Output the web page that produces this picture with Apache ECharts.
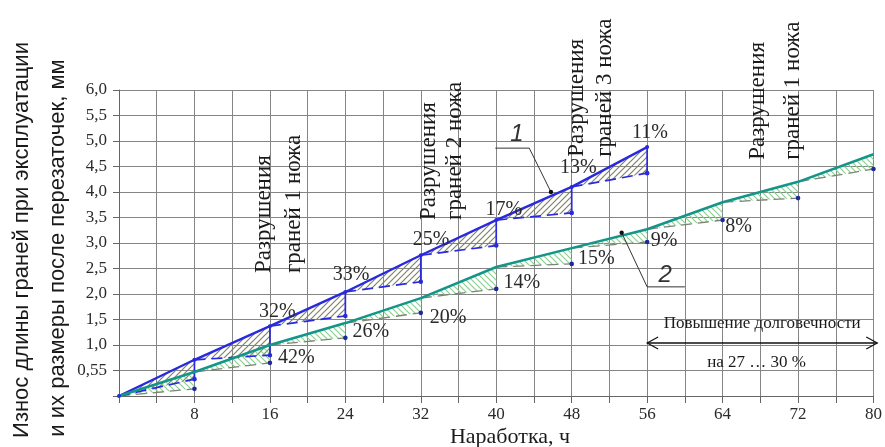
<!DOCTYPE html>
<html><head><meta charset="utf-8">
<script src="https://cdn.jsdelivr.net/npm/echarts@6/dist/echarts.min.js"></script>
<style>html,body{margin:0;padding:0;background:#fff}#c{width:885px;height:447px}</style>
</head><body><div id="c"></div>
<script>
// ---- data ----
const hours = [0, 8, 16, 24, 32, 40, 48, 56, 64, 72, 80];
const blueTop = [0, 0.71, 1.37, 2.04, 2.76, 3.45, 4.10, 4.88];          // curve 1 at 0..56 h
const blueBottom = [null, 0.33, 0.80, 1.57, 2.24, 2.95, 3.59, 4.37];     // after regrinding
const greenTop = [0, 0.47, 1.00, 1.43, 1.92, 2.53, 2.90, 3.27, 3.80, 4.20, 4.74]; // curve 2
const greenBottom = [null, 0.14, 0.65, 1.14, 1.63, 2.10, 2.59, 3.02, 3.45, 3.88, 4.45];
const xTickLabels = [8, 16, 24, 32, 40, 48, 56, 64, 72, 80];
const yTickLabels = ['', '0,55', '1,0', '1,5', '2,0', '2,5', '3,0', '3,5', '4,0', '4,5', '5,0', '5,5', '6,0'];
const pctTexts = ['32%', '42%', '33%', '26%', '20%', '25%', '14%', '17%', '15%', '13%', '11%', '9%', '8%'];
const pctPos = [[16.8,1.65],[18.8,0.75],[24.6,2.37],[26.7,1.26],[34.9,1.53],[33.1,3.06],[42.7,2.22],[40.8,3.65],[50.6,2.70],[48.7,4.47],[56.3,5.16],[57.8,3.04],[65.7,3.31]];
const noteTexts = [['Разрушения','граней 1 ножа'],['Разрушения','граней 2 ножа'],['Разрушения','граней 3 ножа'],['Разрушения','граней 1 ножа']];
const notePos = [[15.4,18.55,2.41],[32.9,35.6,3.45],[48.6,51.55,4.69],[67.8,71.5,4.63]];
const leader1 = [[45.8,4.0],[43.5,4.86],[39.9,4.86]];
const leader2 = [[53.3,3.2],[56.0,2.14],[60.0,2.14]];
const leaderLabels = [['1',42.2,5.14],['2',57.9,2.37]];
const arrowRange = [56.0, 80.4, 1.04];
const gainTexts = [['Повышение долговечности',68.2,1.43],['на 27 … 30 %',67.6,0.65]];

// ---- derived ----
const blueSeg = [], greenSeg = [];
for (let i = 1; i < blueTop.length; i++) blueSeg.push([hours[i-1], blueTop[i-1], hours[i], blueTop[i], blueBottom[i]]);
for (let i = 1; i < greenTop.length; i++) greenSeg.push([hours[i-1], greenTop[i-1], hours[i], greenTop[i], greenBottom[i]]);

function makePattern(color, dir) {
  const s = 6, c = document.createElement('canvas'); c.width = s; c.height = s;
  const g = c.getContext('2d'); g.strokeStyle = color; g.lineWidth = 1.2;
  g.beginPath();
  if (dir > 0) { g.moveTo(0,s); g.lineTo(s,0); g.moveTo(-1,1); g.lineTo(1,-1); g.moveTo(s-1,s+1); g.lineTo(s+1,s-1); }
  else { g.moveTo(0,0); g.lineTo(s,s); g.moveTo(s-1,-1); g.lineTo(s+1,1); g.moveTo(-1,s-1); g.lineTo(1,s+1); }
  g.stroke(); return c;
}
const bluePat = makePattern('#7f8466', 1);
const greenPat = makePattern('#8ccf92', -1);

const BLUE = '#2929de', GREEN = '#13958a';
const SERIF = 'Liberation Serif';

function hatchSeries(data, pat) {
  return { type: 'custom', data, clip: false, z: 1, silent: true,
    renderItem: (p, api) => {
      const a = api.coord([api.value(0), api.value(1)]);
      const b = api.coord([api.value(2), api.value(3)]);
      const c = api.coord([api.value(2), api.value(4)]);
      return { type: 'polygon', shape: { points: [a, b, c] }, style: { fill: { type: 'pattern', image: pat, repeat: 'repeat' }, stroke: null } };
    } };
}
function dashSeries(data, color, w, vertical, dotColor) {
  return { type: 'custom', data, clip: false, z: 3, silent: true,
    renderItem: (p, api) => {
      const a = api.coord([api.value(0), api.value(1)]);
      const b = api.coord([api.value(2), api.value(3)]);
      const c = api.coord([api.value(2), api.value(4)]);
      const ch = [{ type: 'line', shape: { x1: a[0], y1: a[1], x2: c[0], y2: c[1] }, style: { stroke: color, lineWidth: w, lineDash: [11, 6] } }];
      if (vertical) ch.push({ type: 'line', shape: { x1: b[0], y1: b[1], x2: c[0], y2: c[1] }, style: { stroke: BLUE, lineWidth: 1.7 } });
      ch.push({ type: 'circle', shape: { cx: c[0], cy: c[1], r: 2.3 }, style: { fill: dotColor } });
      return { type: 'group', children: ch };
    } };
}

const option = {
  animation: false,
  backgroundColor: '#fff',
  grid: { left: 119, right: 7, top: 90, bottom: 51 },
  xAxis: { type: 'value', min: 0, max: 80, interval: 4,
    axisLine: { lineStyle: { color: '#666', width: 1 } },
    axisTick: { show: true, length: 7, lineStyle: { color: '#666' } },
    axisLabel: { color: '#2a2a2a', fontFamily: SERIF, fontSize: 17, margin: 10,
      formatter: v => xTickLabels.includes(v) ? String(v) : '' },
    splitLine: { show: true, lineStyle: { color: '#858585', width: 1 } } },
  yAxis: { type: 'value', min: 0, max: 6, interval: 0.5,
    axisLine: { show: true, lineStyle: { color: '#666', width: 1 } },
    axisTick: { show: true, length: 6, lineStyle: { color: '#666' } },
    axisLabel: { color: '#2a2a2a', fontFamily: SERIF, fontSize: 17, margin: 12,
      formatter: v => yTickLabels[Math.round(v / 0.5)] },
    splitLine: { show: true, lineStyle: { color: '#858585', width: 1 } } },
  graphic: [
    { type: 'text', x: 22, y: 240, rotation: Math.PI / 2, style: { text: 'Износ длины граней при эксплуатации', font: '22px Liberation Sans', fill: '#1a1a1a', align: 'center', verticalAlign: 'middle' } },
    { type: 'text', x: 58, y: 248, rotation: Math.PI / 2, style: { text: 'и их размеры после перезаточек, мм', font: '22px Liberation Sans', fill: '#1a1a1a', align: 'center', verticalAlign: 'middle' } },
    { type: 'text', x: 510, y: 437, style: { text: 'Наработка, ч', font: '22px ' + SERIF, fill: '#1a1a1a', align: 'center', verticalAlign: 'middle' } }
  ],
  series: [
    hatchSeries(blueSeg, bluePat),
    hatchSeries(greenSeg, greenPat),
    dashSeries(greenSeg, '#7e8276', 1.3, false, '#1c2a9a'),
    dashSeries(blueSeg, BLUE, 1.7, true, BLUE),
    { type: 'line', data: blueTop.map((v, i) => [hours[i], v]), z: 4, lineStyle: { color: BLUE, width: 2.4 },
      itemStyle: { color: BLUE }, symbol: 'circle', symbolSize: 4, showSymbol: true },
    { type: 'line', data: greenTop.map((v, i) => [hours[i], v]), z: 4, lineStyle: { color: GREEN, width: 2.5 },
      itemStyle: { color: GREEN }, symbol: 'none' },
    // percentage labels
    { type: 'custom', data: pctPos.map((p, i) => [p[0], p[1], i]), clip: false, z: 6, silent: true,
      renderItem: (p, api) => { const c = api.coord([api.value(0), api.value(1)]);
        return { type: 'text', x: c[0], y: c[1], style: { text: pctTexts[api.value(2)], font: '20px ' + SERIF, fill: '#2a2a2a', align: 'center', verticalAlign: 'middle' } }; } },
    // rotated notes
    { type: 'custom', data: notePos.map((p, i) => [p[0], p[2], p[1], i]), clip: false, z: 6, silent: true,
      renderItem: (p, api) => { const a = api.coord([api.value(0), api.value(1)]); const b = api.coord([api.value(2), api.value(1)]);
        const t = noteTexts[api.value(3)];
        return { type: 'group', children: [
          { type: 'text', x: a[0], y: a[1], rotation: Math.PI / 2, style: { text: t[0], font: '23px ' + SERIF, fill: '#1a1a1a', align: 'left', verticalAlign: 'middle' } },
          { type: 'text', x: b[0], y: b[1], rotation: Math.PI / 2, style: { text: t[1], font: '23px ' + SERIF, fill: '#1a1a1a', align: 'left', verticalAlign: 'middle' } } ] }; } },
    // leaders
    { type: 'custom', data: [0, 1].map(i => [i === 0 ? leader1[0][0] : leader2[0][0], i === 0 ? leader1[0][1] : leader2[0][1], i]), clip: false, z: 6, silent: true,
      renderItem: (p, api) => { const L = api.value(2) === 0 ? leader1 : leader2; const lab = leaderLabels[api.value(2)];
        const pts = L.map(q => api.coord(q)); const lp = api.coord([lab[1], lab[2]]);
        return { type: 'group', children: [
          { type: 'polyline', shape: { points: pts }, style: { stroke: '#333', lineWidth: 1, fill: null } },
          { type: 'circle', shape: { cx: pts[0][0], cy: pts[0][1], r: 2.2 }, style: { fill: '#111' } },
          { type: 'text', x: lp[0], y: lp[1], style: { text: lab[0], font: 'italic 24px Liberation Sans', fill: '#333', align: 'center', verticalAlign: 'middle' } } ] }; } },
    // durability gain arrow + texts
    { type: 'custom', data: [[arrowRange[0], arrowRange[2]]], clip: false, z: 6, silent: true,
      renderItem: (p, api) => { const a = api.coord([arrowRange[0], arrowRange[2]]); const b = api.coord([arrowRange[1], arrowRange[2]]);
        const ch = [
          { type: 'line', shape: { x1: a[0], y1: a[1], x2: b[0], y2: b[1] }, style: { stroke: '#111', lineWidth: 1.5 } },
          { type: 'polyline', shape: { points: [[a[0] + 11, a[1] - 6], [a[0], a[1]], [a[0] + 11, a[1] + 6]] }, style: { stroke: '#111', lineWidth: 1.2, fill: null } },
          { type: 'polyline', shape: { points: [[b[0] - 11, b[1] - 6], [b[0], b[1]], [b[0] - 11, b[1] + 6]] }, style: { stroke: '#111', lineWidth: 1.2, fill: null } } ];
        gainTexts.forEach(g => { const c = api.coord([g[1], g[2]]);
          ch.push({ type: 'text', x: c[0], y: c[1], style: { text: g[0], font: '17px ' + SERIF, fill: '#1a1a1a', align: 'center', verticalAlign: 'middle' } }); });
        return { type: 'group', children: ch }; } }
  ]
};
const chart = echarts.init(document.getElementById('c'), null, { renderer: 'canvas' });
chart.setOption(option);
</script></body></html>
